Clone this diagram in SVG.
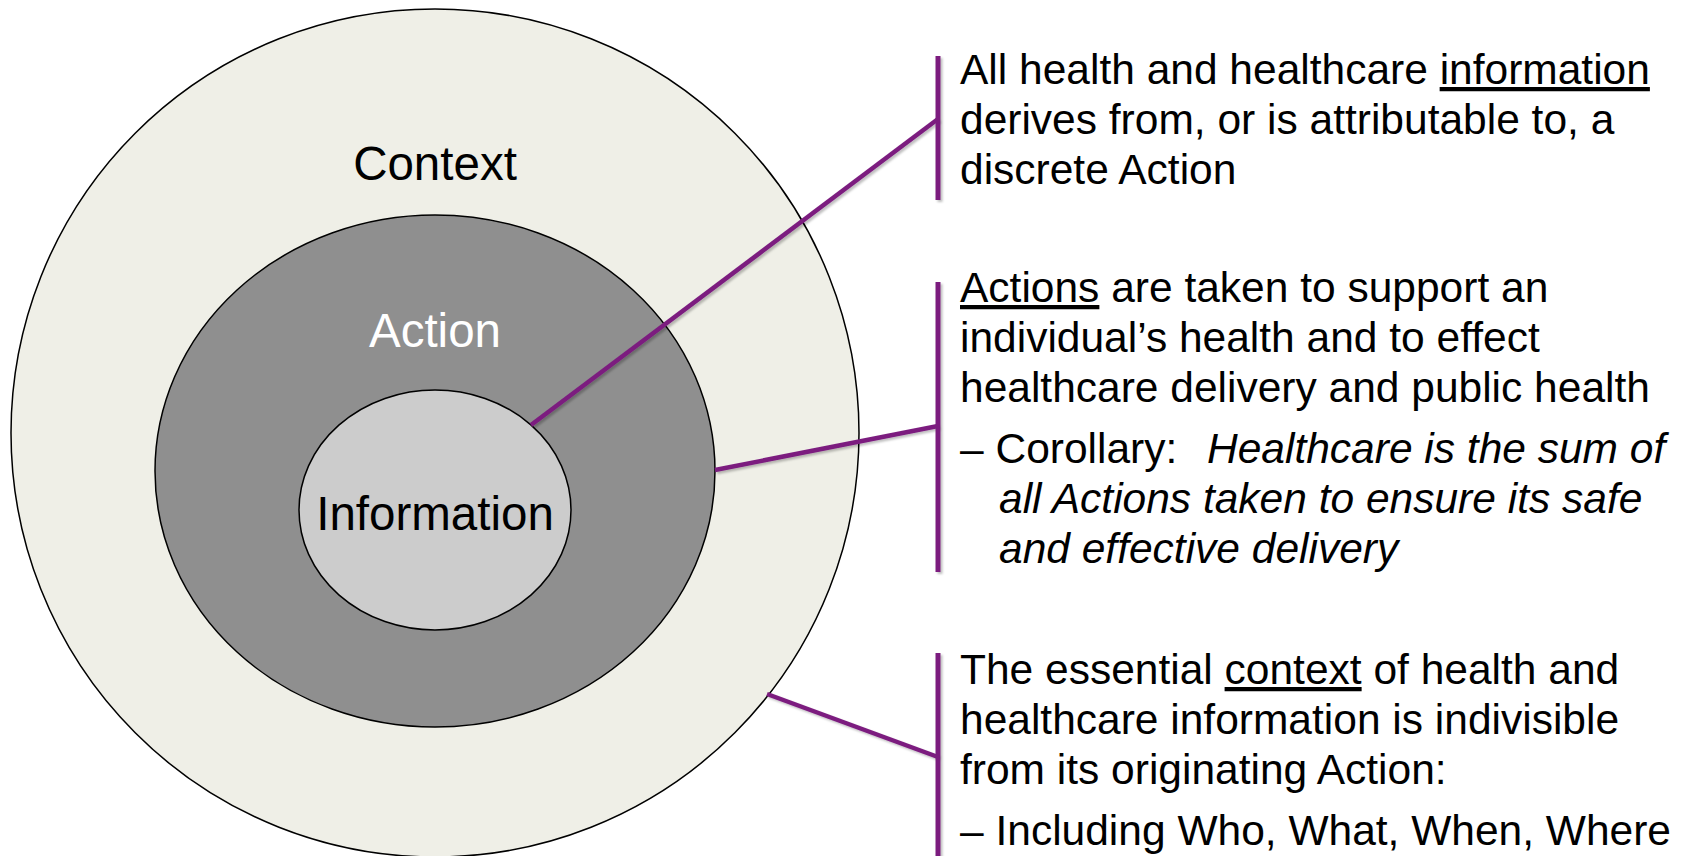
<svg xmlns="http://www.w3.org/2000/svg" width="1688" height="856" viewBox="0 0 1688 856">
<defs>
<style>
.ring{stroke:#000;stroke-width:1.5}
.lbl{font-family:"Liberation Sans",Arial,sans-serif;font-size:47.5px;text-anchor:middle}
.txt{font-family:"Liberation Sans",Arial,sans-serif;font-size:42.5px;fill:#000}
.u{text-decoration:underline}
.it{font-style:italic}
.bar{stroke:#7b1f7f;stroke-width:5;fill:none}
.con{stroke:#7b1f7f;stroke-width:4.5;fill:none}
</style>
<filter id="sh" filterUnits="userSpaceOnUse" x="0" y="0" width="1688" height="856">
<feDropShadow dx="2" dy="2" stdDeviation="1" flood-color="#000" flood-opacity="0.25"/>
</filter>
</defs>
<rect width="1688" height="856" fill="#fff"/>
<g id="context">
<circle class="ring" cx="435" cy="433" r="424" fill="#efefe7"/>
<text class="lbl" x="435" y="180">Context</text>
</g>
<g id="action">
<ellipse class="ring" cx="435" cy="471" rx="280" ry="256" fill="#8f8f8f"/>
<text class="lbl" x="435" y="347" fill="#fff">Action</text>
</g>
<g id="information">
<ellipse class="ring" cx="435" cy="510" rx="136" ry="120" fill="#cccccc"/>
<text class="lbl" x="435" y="530" fill="#000">Information</text>
</g>
<g id="connectors" filter="url(#sh)">
<line class="con" x1="531" y1="425" x2="938" y2="119"/>
<line class="con" x1="715" y1="470" x2="938" y2="426"/>
<line class="con" x1="767" y1="694" x2="938" y2="757"/>
</g>
<g id="note-information">
<line class="bar" x1="938" y1="56" x2="938" y2="200" filter="url(#sh)"/>
<text class="txt" x="960" y="84">All health and healthcare <tspan class="u">information</tspan></text>
<text class="txt" x="960" y="134">derives from, or is attributable to, a</text>
<text class="txt" x="960" y="184">discrete Action</text>
</g>
<g id="note-action">
<line class="bar" x1="938" y1="282" x2="938" y2="572" filter="url(#sh)"/>
<text class="txt" x="960" y="302"><tspan class="u">Actions</tspan> are taken to support an</text>
<text class="txt" x="960" y="352">individual’s health and to effect</text>
<text class="txt" x="960" y="402">healthcare delivery and public health</text>
<text class="txt" x="960" y="463">– Corollary:<tspan class="it" x="1207">Healthcare is the sum of</tspan></text>
<text class="txt it" x="999" y="513">all Actions taken to ensure its safe</text>
<text class="txt it" x="999" y="563">and effective delivery</text>
</g>
<g id="note-context">
<line class="bar" x1="938" y1="653" x2="938" y2="860" filter="url(#sh)"/>
<text class="txt" x="960" y="684">The essential <tspan class="u">context</tspan> of health and</text>
<text class="txt" x="960" y="734">healthcare information is indivisible</text>
<text class="txt" x="960" y="784">from its originating Action:</text>
<text class="txt" x="960" y="845">– Including Who, What, When, Where</text>
</g>
</svg>
